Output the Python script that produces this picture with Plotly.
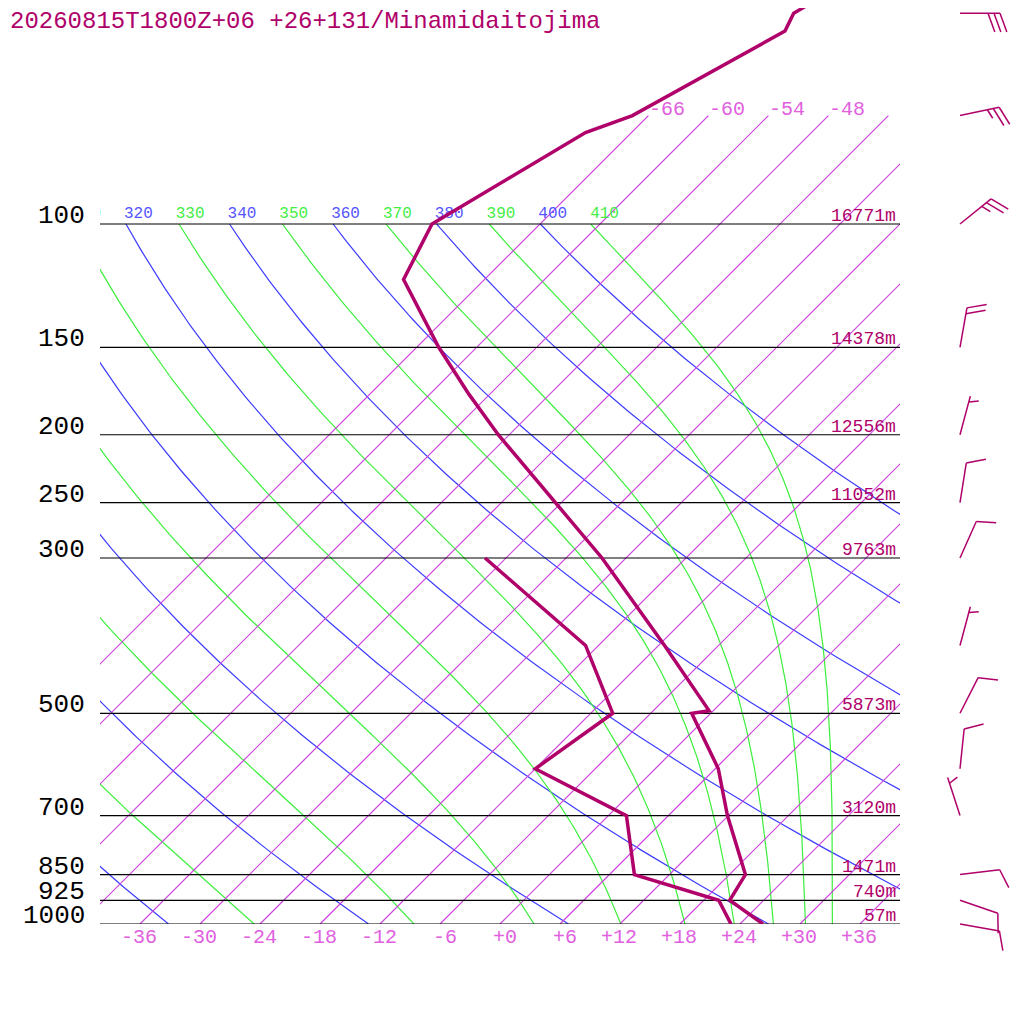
import numpy as np
import plotly.graph_objects as go

# sounding
title = "20260815T1800Z+06 +26+131/Minamidaitojima"

temp_p = [1000, 925, 850, 700, 600, 500, 496, 400, 300, 250, 200, 175, 150, 120, 100, 74, 70, 53, 50, 30]
temp_c = [26.3, 20.6, 19.6, 11.9, 6.3, -1.9, -0.4, -11.4, -26.4, -36.6, -49.1, -56.1, -63.8, -74.1, -76.8, -70.6, -67.6, -60.8, -61.7, -51.0]

dew_p = [1000, 925, 850, 700, 600, 500, 400, 300]
dew_c = [23.1, 19.5, 8.5, 1.8, -12.0, -9.8, -19.3, -38.1]

hgt_p = [100, 150, 200, 250, 300, 500, 700, 850, 925, 1000]
hgt_m = [16771, 14378, 12556, 11052, 9763, 5873, 3120, 1471, 740, 57]

wind_p = [50, 70, 100, 150, 200, 250, 300, 400, 500, 600, 700, 850, 925, 1000]
wind_dir = [90, 78, 51, 10, 15, 9, 24, 15, 27, 6, 342, 83, 109, 100]
wind_kt = [30, 25, 25, 20, 5, 10, 10, 5, 10, 10, 5, 10, 10, 10]

tick_c = [-36, -30, -24, -18, -12, -6, 0, 6, 12, 18, 24, 30, 36]
iso_c = list(range(-66, 37, 6))
dry_k = list(range(240, 401, 20))
moist_k = list(range(250, 411, 20))

# skew-T geometry: y = ln(1000/p), x = T + SKEW*y
SKEW = 30.4
PXY = 304.0          # pixels per unit of ln p
PURPLE = '#b0006a'
ISO = '#cc40dc'
BLUE = '#3c3cff'
GREEN = '#3cee3c'
MONO = 'Liberation Mono'

# the page puts the figure 8px in from the corner
OFF = 8
W = H = 1024 - OFF
BOT = 964            # page y of the bottom of the plot area (room for the low barbs)
PH = BOT - OFF       # plot height in pixels


def yy(p):
    return np.log(1000.0 / np.asarray(p, dtype=float))


def xx(t, p):
    return np.asarray(t, dtype=float) + SKEW * yy(p)


def px(xpage):
    return (xpage - 100) / (W - (100 - OFF))


def py(ypage):
    return (BOT - ypage) / PH


def theta_e_sat(tk, p):
    es = 6.112 * np.exp(17.67 * (tk - 273.15) / (tk - 29.65))
    es = np.minimum(es, 0.5 * p)
    r = 1000 * 0.622 * es / (p - es)
    return tk * (1000 / p) ** (0.2854 * (1 - 0.00028 * r)) * np.exp((3.376 / tk - 0.00254) * r * (1 + 0.00081 * r))


def moist_t(the, p):
    lo = np.full_like(p, 150.0)
    hi = np.full_like(p, 330.0)
    for _ in range(60):
        mid = 0.5 * (lo + hi)
        big = theta_e_sat(mid, p) > the
        hi = np.where(big, mid, hi)
        lo = np.where(big, lo, mid)
    return 0.5 * (lo + hi) - 273.15


fig = go.Figure()

pp = np.exp(np.linspace(np.log(1000), np.log(100), 200))
# dry adiabats
for th in dry_k:
    tc = th * (pp / 1000) ** 0.2857 - 273.15
    fig.add_trace(go.Scatter(x=xx(tc, pp), y=yy(pp), mode='lines',
                             line=dict(color=BLUE, width=1.2), hoverinfo='skip'))
# pseudo adiabats
for th in moist_k:
    tc = moist_t(th, pp)
    fig.add_trace(go.Scatter(x=xx(tc, pp), y=yy(pp), mode='lines',
                             line=dict(color=GREEN, width=1.2), hoverinfo='skip'))

# isotherms, one trace, sampled like the adiabats
pi = np.exp(np.linspace(np.log(1000), np.log(70), 60))
ix, iy = [], []
for t in iso_c:
    ix += list(xx(np.full_like(pi, t), pi)) + [None]
    iy += list(yy(pi)) + [None]
fig.add_trace(go.Scatter(x=ix, y=iy, mode='lines', line=dict(color=ISO, width=1.2),
                         hoverinfo='skip'))

# adiabat labels on 100 hPa
lab_k = sorted(dry_k + moist_k)
lab_k = [k for k in lab_k if k >= 310]
lab_x = [k * 0.1 ** 0.2857 - 273.15 + SKEW * yy(100) - 0.2 for k in lab_k]
lab_col = ['#5555ff' if k in dry_k else '#44ee44' for k in lab_k]
fig.add_trace(go.Scatter(x=lab_x, y=[yy(100) + 10 / PXY] * len(lab_k), mode='text',
                         text=[str(k) for k in lab_k], textposition='middle right',
                         textfont=dict(family=MONO, size=16, color=lab_col),
                         cliponaxis=True, hoverinfo='skip'))

# pressure lines
for p in hgt_p:
    fig.add_trace(go.Scatter(x=[-40, 40], y=[yy(p), yy(p)], mode='lines',
                             line=dict(color='black', width=1.2), hoverinfo='skip'))

# profiles
fig.add_trace(go.Scatter(x=xx(temp_c, temp_p), y=yy(temp_p), mode='lines',
                         line=dict(color=PURPLE, width=3.5), hoverinfo='skip'))
fig.add_trace(go.Scatter(x=xx(dew_c, dew_p), y=yy(dew_p), mode='lines',
                         line=dict(color=PURPLE, width=3.5), hoverinfo='skip'))

# wind barbs on a side axis measured in pixels
bx, by = [], []
ca, sa = np.cos(np.radians(70)), np.sin(np.radians(70))
for p, d, s in zip(wind_p, wind_dir, wind_kt):
    ux, uy = np.sin(np.radians(d)), -np.cos(np.radians(d))
    y0 = float(yy(p))
    tipx, tipy = 960 + 40 * ux, 40 * uy
    bx += [960, tipx, None]
    by += [y0, y0 - tipy / PXY, None]
    vx, vy = ux * ca - uy * sa, ux * sa + uy * ca
    full, half = s // 10, (s % 10) // 5
    pos = 0 if full else 6
    for k in range(full + half):
        ln = 20 if k < full else 10
        sx, sy = tipx - pos * ux, tipy - pos * uy
        bx += [sx, sx + ln * vx, None]
        by += [y0 - sy / PXY, y0 - (sy + ln * vy) / PXY, None]
        pos += 6
fig.add_trace(go.Scatter(x=bx, y=by, xaxis='x2', yaxis='y2', mode='lines',
                         line=dict(color=PURPLE, width=1.5), hoverinfo='skip'))

# texts, placed in page pixels
ann = []
for p in hgt_p:
    yp = 924 - PXY * float(yy(p))
    ann.append(dict(x=px(87), y=py(yp - 8), text=str(p), xanchor='right', yanchor='middle',
                    font=dict(family=MONO, size=26, color='black')))
    ann.append(dict(x=px(898), y=py(yp - 8), text=f'{hgt_m[hgt_p.index(p)]}m',
                    xanchor='right', yanchor='middle',
                    font=dict(family=MONO, size=18, color=PURPLE)))
for t in tick_c:
    ann.append(dict(x=px(500 + 10 * t + 19), y=py(937), text=f'{t:+d}', xanchor='right',
                    yanchor='middle', font=dict(family=MONO, size=20, color='#e060e0')))
for t in iso_c:
    xt = 500 + 10 * float(xx(t, 70))
    if xt + 36 <= 900:
        ann.append(dict(x=px(xt - 1), y=py(110), text=f'{t:+d}', xanchor='left', yanchor='middle',
                        font=dict(family=MONO, size=20, color='#e060e0')))
ann.append(dict(x=px(8), y=py(22), text=title, xanchor='left', yanchor='middle',
                font=dict(family=MONO, size=24, color=PURPLE)))
for a in ann:
    a.update(xref='paper', yref='paper', showarrow=False)

fig.update_layout(
    width=W, height=H, showlegend=False,
    margin=dict(l=100 - OFF, r=0, t=0, b=H - PH, pad=0),
    plot_bgcolor='white', paper_bgcolor='white',
    xaxis=dict(domain=[0, px(900)], range=[-40, 40], visible=False),
    xaxis2=dict(domain=[px(900), 1], range=[900, 1024], visible=False, anchor='y2'),
    yaxis=dict(domain=[py(924), 1], range=[0, (924 - OFF) / PXY], visible=False),
    yaxis2=dict(domain=[0, 1], range=[(924 - BOT) / PXY, (924 - OFF) / PXY], visible=False,
                anchor='x2'),
    annotations=ann,
)

fig.write_html("out.html")
